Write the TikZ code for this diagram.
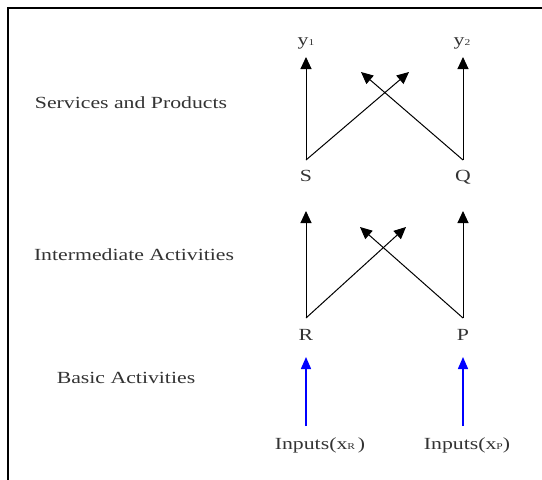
\documentclass[tikz,border=0pt]{standalone}
\usepackage{fontspec}
\setmainfont{Liberation Serif}[FakeStretch=1.28]
\usetikzlibrary{arrows.meta}
\definecolor{ink}{gray}{0.2}
\newcommand{\subsz}[1]{{\fontsize{9}{9}\selectfont #1}}
\begin{document}
\begin{tikzpicture}[x=1pt,y=-1pt,
  lbl/.style={font=\fontsize{17}{17}\selectfont, text=ink, anchor=base, inner sep=0pt},
  flow/.style={line width=1pt, -{Triangle[length=12pt,width=11pt]}},
  feed/.style={line width=1.5pt, blue, -{Triangle[length=12pt,width=10pt]}}]
  \useasboundingbox (0,0) rectangle (542,480);
  % frame
  \draw[line width=1.2pt] (8,480) -- (8,8) -- (542,8);

  % level captions
  \node[lbl] (svc) at (131,108) {Services and Products};
  \node[lbl] (mid) at (134,260) {Intermediate Activities};
  \node[lbl] (bas) at (126,383) {Basic Activities};

  % outputs
  \node[lbl] (y1) at (306,45) {y\subsz{1}};
  \node[lbl] (y2) at (462,45) {y\subsz{2}};

  % activities
  \node[lbl] (S) at (306,181) {S};
  \node[lbl] (Q) at (463,181) {Q};
  \node[lbl] (R) at (306,340) {R};
  \node[lbl] (P) at (463,340) {P};

  % inputs
  \node[lbl] (inR) at (320,449) {Inputs(x\subsz{R}\,)};
  \node[lbl] (inP) at (467,449) {Inputs(x\subsz{P})};

  % connector end points
  \coordinate (s0) at (306,160);
  \coordinate (q0) at (463,160);
  \coordinate (y1b) at (306,57);
  \coordinate (y2b) at (463,57);
  \coordinate (sx) at (409,72);
  \coordinate (qx) at (361,72);

  \coordinate (r0) at (306,318);
  \coordinate (p0) at (463,318);
  \coordinate (ru) at (306,211);
  \coordinate (pu) at (463,211);
  \coordinate (rx) at (406,227);
  \coordinate (px) at (360,227);

  \coordinate (ri) at (306,426);
  \coordinate (pi) at (463,426);
  \coordinate (rt) at (306,357);
  \coordinate (pt) at (463,357);

  % upper layer
  \draw[flow] (s0) -- (y1b);
  \draw[flow] (s0) -- (sx);
  \draw[flow] (q0) -- (y2b);
  \draw[flow] (q0) -- (qx);

  % middle layer
  \draw[flow] (r0) -- (ru);
  \draw[flow] (r0) -- (rx);
  \draw[flow] (p0) -- (pu);
  \draw[flow] (p0) -- (px);

  % inputs
  \draw[feed] (ri) -- (rt);
  \draw[feed] (pi) -- (pt);
\end{tikzpicture}
\end{document}
